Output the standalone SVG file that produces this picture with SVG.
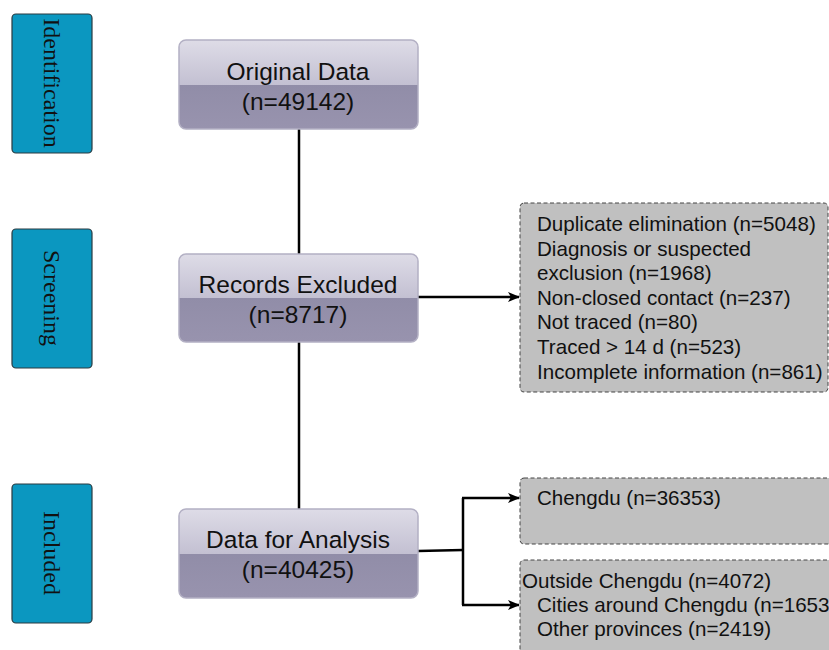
<svg xmlns="http://www.w3.org/2000/svg" width="829" height="650" viewBox="0 0 829 650">
<defs>
<linearGradient id="gTop" x1="0" y1="0" x2="0" y2="1">
<stop offset="0" stop-color="#dedce7"/>
<stop offset="1" stop-color="#c3c0d2"/>
</linearGradient>
<linearGradient id="gBot" x1="0" y1="0" x2="0" y2="1">
<stop offset="0" stop-color="#918da8"/>
<stop offset="1" stop-color="#9893ae"/>
</linearGradient>
<marker id="arr" viewBox="0 0 12 10" refX="11" refY="5" markerWidth="12" markerHeight="10" markerUnits="userSpaceOnUse" orient="auto">
<path d="M0,0 L12,5 L0,10 L3,5 z" fill="#000"/>
</marker>
<clipPath id="c1"><rect x="179" y="40" width="239" height="89" rx="7"/></clipPath>
<clipPath id="c2"><rect x="179" y="254" width="239" height="88" rx="7"/></clipPath>
<clipPath id="c3"><rect x="179" y="509" width="239" height="89" rx="7"/></clipPath>
</defs>
<style>
.stage{fill:#0b97c0;stroke:#2a3a40;stroke-width:1.2}
.stxt{font-family:"Liberation Serif",serif;font-size:24px;fill:#111}
.main{font-family:"Liberation Sans",Arial,sans-serif;font-size:24.5px;fill:#111;text-anchor:middle}
.side{fill:#c0c0c0;stroke:#444;stroke-width:1;stroke-dasharray:4,2.5}
.t{font-family:"Liberation Sans",Arial,sans-serif;font-size:20.6px;fill:#111}
.edge{fill:none;stroke:#000;stroke-width:2.5}
.bord{fill:none;stroke:#b3b0c4;stroke-width:1.5}
</style>
<rect width="829" height="650" fill="#fff"/>

<g id="identification">
<rect class="stage" x="12" y="14" width="80" height="139" rx="4"/>
<text class="stxt" transform="translate(44,83) rotate(90)" text-anchor="middle">Identification</text>
</g>
<g id="screening">
<rect class="stage" x="12" y="229" width="80" height="139" rx="4"/>
<text class="stxt" transform="translate(44,298) rotate(90)" text-anchor="middle">Screening</text>
</g>
<g id="included">
<rect class="stage" x="12" y="484" width="80" height="139" rx="4"/>
<text class="stxt" transform="translate(44,553) rotate(90)" text-anchor="middle">Included</text>
</g>

<g id="connectors">
<line class="edge" x1="299" y1="129" x2="299" y2="254"/>
<line class="edge" x1="299" y1="342" x2="299" y2="509"/>
<line class="edge" x1="418" y1="297" x2="519" y2="297" marker-end="url(#arr)"/>
<line class="edge" x1="418" y1="551" x2="463" y2="550"/>
<line class="edge" x1="463" y1="498" x2="463" y2="605"/>
<line class="edge" x1="462" y1="498" x2="519" y2="498" marker-end="url(#arr)"/>
<line class="edge" x1="462" y1="605" x2="519" y2="605" marker-end="url(#arr)"/>
</g>

<g id="original">
<g clip-path="url(#c1)">
<rect x="179" y="40" width="239" height="45" fill="url(#gTop)"/>
<rect x="179" y="85" width="239" height="44" fill="url(#gBot)"/>
</g>
<rect class="bord" x="179" y="40" width="239" height="89" rx="7"/>
<text class="main" x="298" y="80">Original Data</text>
<text class="main" x="298" y="110">(n=49142)</text>
</g>

<g id="excluded">
<g clip-path="url(#c2)">
<rect x="179" y="254" width="239" height="44" fill="url(#gTop)"/>
<rect x="179" y="298" width="239" height="44" fill="url(#gBot)"/>
</g>
<rect class="bord" x="179" y="254" width="239" height="88" rx="7"/>
<text class="main" x="298" y="293">Records Excluded</text>
<text class="main" x="298" y="323">(n=8717)</text>
</g>

<g id="analysis">
<g clip-path="url(#c3)">
<rect x="179" y="509" width="239" height="45" fill="url(#gTop)"/>
<rect x="179" y="554" width="239" height="44" fill="url(#gBot)"/>
</g>
<rect class="bord" x="179" y="509" width="239" height="89" rx="7"/>
<text class="main" x="298" y="548">Data for Analysis</text>
<text class="main" x="298" y="578">(n=40425)</text>
</g>

<g id="reasons">
<rect class="side" x="520" y="203" width="308" height="189" rx="4"/>
<text class="t" x="537" y="231">Duplicate elimination (n=5048)</text>
<text class="t" x="537" y="256">Diagnosis or suspected</text>
<text class="t" x="537" y="280">exclusion (n=1968)</text>
<text class="t" x="537" y="305">Non-closed contact (n=237)</text>
<text class="t" x="537" y="329">Not traced (n=80)</text>
<text class="t" x="537" y="354">Traced &gt; 14 d (n=523)</text>
<text class="t" x="537" y="379">Incomplete information (n=861)</text>
</g>

<g id="chengdu">
<rect class="side" x="520" y="478" width="320" height="66" rx="4"/>
<text class="t" x="537" y="505">Chengdu (n=36353)</text>
</g>

<g id="outside">
<rect class="side" x="520" y="560" width="320" height="100" rx="4"/>
<text class="t" x="522" y="588">Outside Chengdu (n=4072)</text>
<text class="t" x="537" y="612">Cities around Chengdu (n=1653)</text>
<text class="t" x="537" y="636">Other provinces (n=2419)</text>
</g>
</svg>
